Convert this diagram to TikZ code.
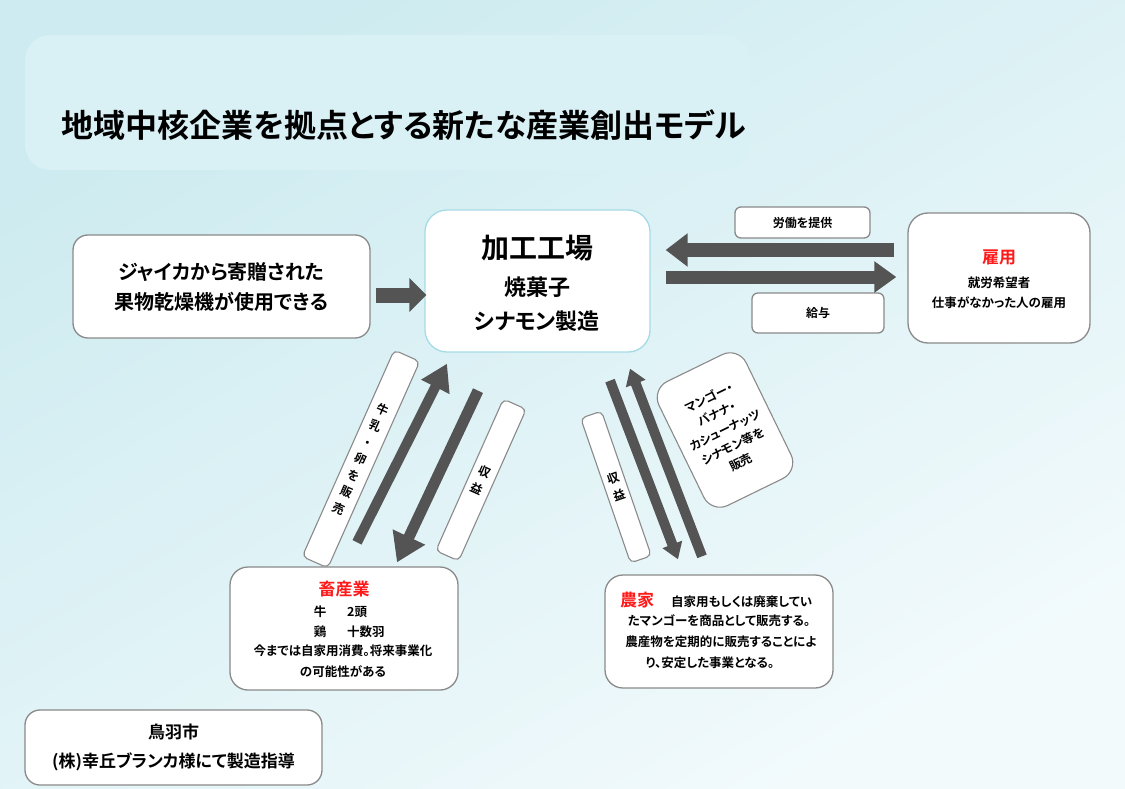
\documentclass[tikz,border=0pt]{standalone}
\usepackage{fontspec}
\setmainfont{Noto Sans CJK JP}[RawFeature=+palt, BoldFont={Noto Sans CJK JP Bold}]
\usetikzlibrary{arrows.meta,calc}
\definecolor{bgA}{HTML}{CDEBF0}
\definecolor{bgB}{HTML}{F2FAFC}
\definecolor{titlebg}{HTML}{D9F0F5}
\definecolor{boxline}{HTML}{8A8A8A}
\definecolor{facline}{HTML}{A6DBE6}
\definecolor{arrcol}{HTML}{545454}
\definecolor{redtxt}{HTML}{FF1A1A}
\newcommand\myfs[2]{\fontsize{#1}{#2}\selectfont}
\begin{document}
\begin{tikzpicture}[x=1pt,y=-1pt,
  box/.style={draw=boxline, line width=1.3pt, fill=white, rounded corners=15pt, align=center, inner sep=0pt, font=\bfseries},
  band/.style={draw=boxline, line width=1.1pt, fill=white, rounded corners=5pt, align=center, inner sep=0pt, font=\bfseries\myfs{12}{18}},
  txt/.style={inner sep=0pt, font=\bfseries\myfs{12.5}{16}},
  redlab/.style={inner sep=0pt, text=redtxt, font=\bfseries\myfs{17}{20}},
  fatarrow/.style={draw=arrcol, line width=#1},
]
\useasboundingbox (0,0) rectangle (1125,789);
\shade[top color=bgA, middle color=bgA, bottom color=bgB, shading angle=30] (0,0) rectangle (1125,789);

% title
\node[fill=titlebg, rounded corners=25pt, minimum width=725pt, minimum height=135pt, inner sep=0pt] (titlebox) at (387.5,102.5) {};
\node[inner sep=0pt, font=\bfseries\myfs{32}{38}] (title) at (404,125) {地域中核企業を拠点とする新たな産業創出モデル};

% boxes
\node[box, minimum width=297pt, minimum height=103pt, font=\bfseries\myfs{20}{30}] (jica) at (221.5,286.5) {ジャイカから寄贈された\\果物乾燥機が使用できる};

\node[box, draw=facline, rounded corners=22pt, minimum width=225pt, minimum height=142pt] (factory) at (537.5,281) {};
\node[inner sep=0pt, font=\bfseries\myfs{28}{34}] (f1) at (537,248) {加工工場};
\node[inner sep=0pt, font=\bfseries\myfs{22}{26}] (f2) at (537,287) {焼菓子};
\node[inner sep=0pt, font=\bfseries\myfs{22}{26}] (f3) at (537,321) {シナモン製造};

\node[box, rounded corners=20pt, minimum width=182pt, minimum height=130pt] (koyo) at (999,278) {};
\node[redlab] (k0) at (999,257) {雇用};
\node[txt] (k1) at (999,283) {就労希望者};
\node[txt] (k2) at (999,303) {仕事がなかった人の雇用};

\node[box, rounded corners=6pt, minimum width=135pt, minimum height=31pt, font=\bfseries\myfs{12}{16}] (labor) at (802.5,222.5) {労働を提供};
\node[box, rounded corners=6pt, minimum width=132pt, minimum height=40pt, font=\bfseries\myfs{12}{16}] (pay) at (818,313) {給与};

\node[box, rounded corners=18pt, minimum width=228pt, minimum height=123pt] (chiku) at (344,628.5) {};
\node[redlab] (c0) at (344,589) {畜産業};
\node[txt] (c1a) at (320,612) {牛};
\node[txt, anchor=west] (c1b) at (347,612) {2頭};
\node[txt] (c2a) at (320,632) {鶏};
\node[txt, anchor=west] (c2b) at (347,632) {十数羽};
\node[txt] (c3) at (343,651) {今までは自家用消費。将来事業化};
\node[txt] (c4) at (343,672) {の可能性がある};

\node[box, rounded corners=18pt, minimum width=228pt, minimum height=113pt] (nouka) at (719,631.5) {};
\node[redlab, anchor=west] (n0) at (620,600) {農家};
\node[txt, anchor=west] (n1) at (671,602) {自家用もしくは廃棄してい};
\node[txt] (n2) at (719,621) {たマンゴーを商品として販売する。};
\node[txt] (n3) at (721,642) {農産物を定期的に販売することによ};
\node[txt] (n4) at (710,663) {り、安定した事業となる。};

\node[box, rounded corners=15pt, minimum width=297pt, minimum height=75pt, font=\bfseries\myfs{17}{29}] (toba) at (173.5,747.5) {鳥羽市\\(株)幸丘ブランカ様にて製造指導};

% slanted labels
\node[band, minimum width=28pt, minimum height=226pt, rotate=-24] (milk) at (361,459) {牛\\乳\\・\\卵\\を\\販\\売};
\node[band, minimum width=25pt, minimum height=166pt, rotate=-24] (revL) at (481,480) {収\\益};
\node[band, minimum width=22pt, minimum height=153pt, rotate=19] (revR) at (616,487) {収\\益};
\node[band, rounded corners=18pt, minimum width=97pt, minimum height=138pt, rotate=26] (fruit) at (725,430) {マンゴー・\\バナナ・\\カシューナッツ\\シナモン等を\\販売};

% arrows
\draw[fatarrow=15pt, -{Triangle[length=17pt,width=33pt]}] ($(jica.east)+(5,8.5)$) -- ($(factory.west)+(2,14)$);
\draw[fatarrow=14pt, -{Triangle[length=22pt,width=32pt]}] ($(koyo.west)+(-13,-28)$) -- ($(factory.east)+(15,-31)$);
\draw[fatarrow=13pt, -{Triangle[length=22pt,width=30pt]}] ($(factory.east)+(15,-4)$) -- ($(koyo.west)+(-11,-1)$);

\draw[fatarrow=10pt, -{Triangle[length=26pt,width=30pt]}] ($(chiku.north)+(13,-24)$) -- ($(factory.south)+(-90.5,11)$);
\draw[fatarrow=11pt, -{Triangle[length=28pt,width=34pt]}] ($(factory.south)+(-59.5,38)$) -- ($(chiku.north)+(53,-4)$);

\draw[fatarrow=10pt, -{Triangle[length=16pt,width=20pt]}] ($(nouka.north)+(-17,-18)$) -- ($(factory.south)+(92.5,16)$);
\draw[fatarrow=10pt, -{Triangle[length=16pt,width=20pt]}] ($(factory.south)+(72.5,28)$) -- ($(nouka.north)+(-41,-15)$);
\end{tikzpicture}
\end{document}
